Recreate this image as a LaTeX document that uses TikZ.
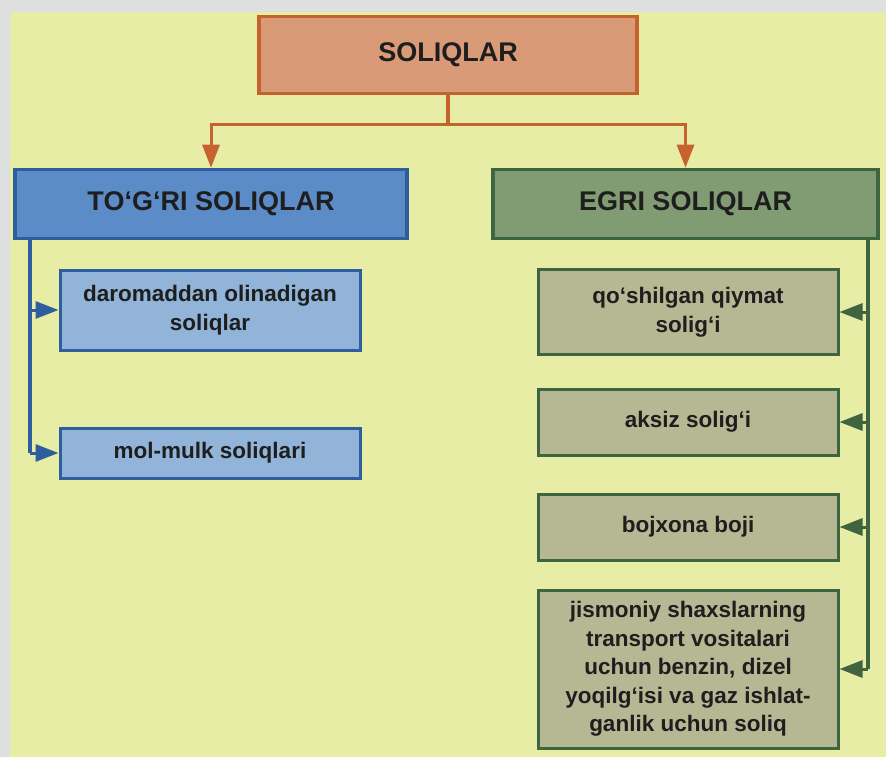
\documentclass[tikz,border=0pt]{standalone}
\usepackage{fontspec}
\setmainfont{Liberation Sans}
\usepackage{tikz}
\usetikzlibrary{arrows.meta}

\definecolor{pagegray}{HTML}{DEE0E0}
\definecolor{paper}{HTML}{E8EDA6}
\definecolor{inktext}{HTML}{1E1E1E}
\definecolor{topfill}{HTML}{D99A78}
\definecolor{topline}{HTML}{C6622E}
\definecolor{bluefill}{HTML}{5B8CC8}
\definecolor{blueline}{HTML}{2F5E9E}
\definecolor{lbluefill}{HTML}{91B4D8}
\definecolor{greenfill}{HTML}{819B73}
\definecolor{greenline}{HTML}{3F6540}
\definecolor{lgreenfill}{HTML}{B5B892}

\begin{document}
\begin{tikzpicture}[x=1pt,y=-1pt,
      headbox/.style = {draw, line width=3.5pt, minimum height=69pt, text=inktext,
                        font=\fontsize{27}{32}\selectfont\bfseries},
      itembox/.style = {draw, line width=3pt, minimum width=300pt, align=center, text=inktext,
                        font=\fontsize{22.5}{28.5}\selectfont\bfseries},
      bus/.style     = {line width=4.5pt},
      tip/.style     = {line width=3pt, -{Triangle[length=23pt,width=17pt]}}]

  % Page
  \fill[pagegray] (0,0) rectangle (886,757);
  \fill[paper] (10,12) rectangle (886,757);

  % Main box
  \node[headbox,fill=topfill,draw=topline,minimum width=378pt,minimum height=77pt] (top) at (448,55) {SOLIQLAR};

  % Two kinds
  \node[headbox,fill=bluefill,draw=blueline,minimum width=392pt] (tog) at (211,204) {TO‘G‘RI SOLIQLAR};
  \node[headbox,fill=greenfill,draw=greenline,minimum width=385pt] (egri) at (685.5,204) {EGRI SOLIQLAR};

  % Direct taxes
  \node[itembox,fill=lbluefill,draw=blueline,minimum height=80pt] (daro) at (210,310) {daromaddan olinadigan\\soliqlar};
  \node[itembox,fill=lbluefill,draw=blueline,minimum height=50pt] (mol) at (210,453) {mol-mulk soliqlari};

  % Indirect taxes
  \node[itembox,fill=lgreenfill,draw=greenline,minimum height=85pt] (qqs) at (688,312) {qo‘shilgan qiymat\\solig‘i};
  \node[itembox,fill=lgreenfill,draw=greenline,minimum height=66pt] (aksiz) at (688,422) {aksiz solig‘i};
  \node[itembox,fill=lgreenfill,draw=greenline,minimum height=66pt] (boj) at (688,527) {bojxona boji};
  \node[itembox,fill=lgreenfill,draw=greenline,minimum height=158pt] (benzin) at (688,669)
     {jismoniy shaxslarning\\transport vositalari\\uchun benzin, dizel\\yoqilg‘isi va gaz ishlat-\\ganlik uchun soliq};

  % Fork under the main box
  \coordinate (fork) at (448,125);
  \draw[bus,topline] (top.south) -- (fork);
  \draw[tip,topline] (fork) -| (tog.north);
  \draw[tip,topline] (fork) -| (egri.north);

  % Left bus
  \coordinate (lbus) at (30,0);
  \draw[bus,blueline] (tog.south -| lbus) -- (mol.west -| lbus);
  \draw[tip,blueline] (daro.west -| lbus) -- (daro.west);
  \draw[tip,blueline] (mol.west -| lbus) -- (mol.west);

  % Right bus
  \coordinate (rbus) at (868,0);
  \draw[bus,greenline] (egri.south -| rbus) -- (benzin.east -| rbus);
  \draw[tip,greenline] (qqs.east -| rbus) -- (qqs.east);
  \draw[tip,greenline] (aksiz.east -| rbus) -- (aksiz.east);
  \draw[tip,greenline] (boj.east -| rbus) -- (boj.east);
  \draw[tip,greenline] (benzin.east -| rbus) -- (benzin.east);

\end{tikzpicture}
\end{document}
